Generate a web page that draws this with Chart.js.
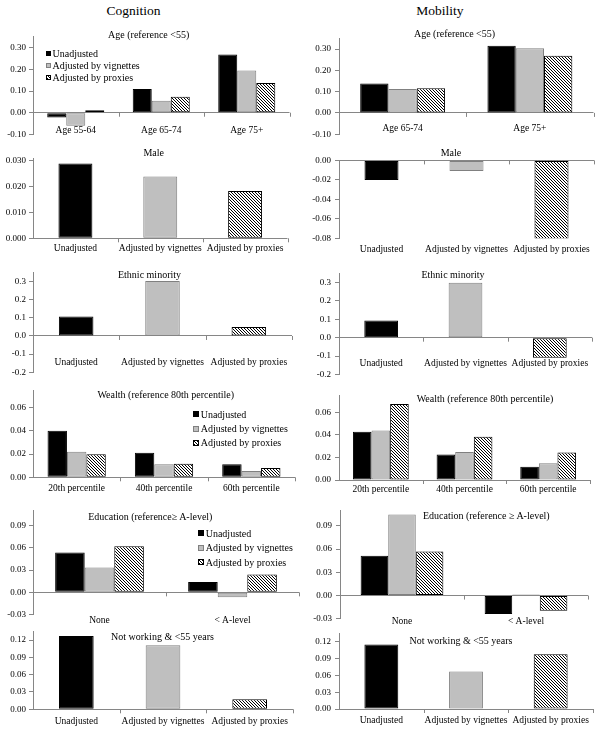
<!DOCTYPE html>
<html>
<head>
<meta charset="utf-8">
<script src="https://cdn.jsdelivr.net/npm/chart.js@4.4.1/dist/chart.umd.min.js"></script>
<style>
  body { margin: 0; background: #fff; }
  #page { position: relative; width: 601px; height: 730px; overflow: hidden; background: #fff;
    font-family: "Liberation Serif", "Times New Roman", serif; color: #000; }
  #page canvas { position: absolute; }
  .head { position: absolute; font-size: 13.5px; transform: translate(-50%, -50%); white-space: nowrap; }
  .ptitle { position: absolute; font-size: 10px; transform: translate(-50%, -50%); white-space: nowrap; }
  .legend { position: absolute; font-size: 10px; white-space: nowrap; }
  .legend .row { display: flex; align-items: center; }
  .legend .key { box-sizing: border-box; margin-right: 2px; }
</style>
</head>
<body>
<div id="page"></div>
<script>
// --- Data ---
const seriesNames = ['Unadjusted', 'Adjusted by vignettes', 'Adjusted by proxies'];

// Cognition
const cogAgeLabels = ['Age 55-64', 'Age 65-74', 'Age 75+'];
const cogAgeUnadj = [-0.022, 0.109, 0.269];
const cogAgeVig = [-0.060, 0.055, 0.195];
const cogAgeProx = [0.012, 0.074, 0.137];

const cogMale = [0.0290, 0.0240, 0.0184];
const cogEthnic = [0.108, 0.303, 0.050];

const wealthLabels = ['20th percentile', '40th percentile', '60th percentile'];
const cogWealthUnadj = [0.0402, 0.0212, 0.0112];
const cogWealthVig = [0.0220, 0.0112, 0.0054];
const cogWealthProx = [0.0198, 0.0117, 0.0080];

const eduLabels = ['None', '< A-level'];
const cogEduUnadj = [0.0535, 0.0138];
const cogEduVig = [0.0335, -0.0067];
const cogEduProx = [0.0620, 0.0241];

const cogNotWorking = [0.127, 0.111, 0.0173];

// Mobility
const mobAgeLabels = ['Age 65-74', 'Age 75+'];
const mobAgeUnadj = [0.138, 0.315];
const mobAgeVig = [0.112, 0.304];
const mobAgeProx = [0.116, 0.268];

const mobMale = [-0.020, -0.011, -0.081];
const mobEthnic = [0.093, 0.299, -0.110];

const mobWealthUnadj = [0.0427, 0.0225, 0.0117];
const mobWealthVig = [0.0439, 0.0248, 0.0149];
const mobWealthProx = [0.0673, 0.0383, 0.0243];

const mobEduUnadj = [0.0514, -0.0239];
const mobEduVig = [0.1046, 0.0015];
const mobEduProx = [0.0570, -0.0196];

const mobNotWorking = [0.115, 0.067, 0.0977];

// Tick labels
const ageTicks = [-0.1, 0, 0.1, 0.2, 0.3];
const cogMaleTicks = [0, 0.01, 0.02, 0.03];
const mobMaleTicks = [-0.08, -0.06, -0.04, -0.02, 0];
const ethnicTicks = [-0.2, -0.1, 0, 0.1, 0.2, 0.3];
const wealthTicks = [0, 0.02, 0.04, 0.06];
const eduTicks = [-0.03, 0, 0.03, 0.06, 0.09];
const notWorkingTicks = [0, 0.03, 0.06, 0.09, 0.12];

// --- Styles ---
const axisGray = '#868686';
const grayFill = '#bfbfbf';
const grayEdge = '#808080';
const FONT = '"Liberation Serif", "Times New Roman", serif';
const LABEL_SIZE = 9.5;

Chart.defaults.font.family = FONT;
Chart.defaults.color = '#000';

const page = document.getElementById('page');

// hatched fill (\\\\)
const patCanvas = document.createElement('canvas');
patCanvas.width = 3; patCanvas.height = 3;
const pctx = patCanvas.getContext('2d');
pctx.fillStyle = '#fff';
pctx.fillRect(0, 0, 3, 3);
pctx.fillStyle = '#000';
for (let i = 0; i < 3; i++) pctx.fillRect(i, i, 1, 1);
const hatch = pctx.createPattern(patCanvas, 'repeat');

function groupedSets(u, v, pr) {
  return [
    { label: seriesNames[0], data: u, backgroundColor: '#000', borderColor: '#000' },
    { label: seriesNames[1], data: v, backgroundColor: grayFill, borderColor: grayEdge },
    { label: seriesNames[2], data: pr, backgroundColor: hatch, borderColor: '#000' }
  ];
}

function singleSet(vals) {
  return [{
    label: 'Estimate', data: vals,
    backgroundColor: ['#000', grayFill, hatch],
    borderColor: ['#000', grayEdge, '#000'],
    categoryPercentage: 1, barPercentage: 0.4
  }];
}

// small outside tick marks on the zero line between categories
const catTicks = {
  id: 'catTicks',
  afterDraw(chart) {
    const xs = chart.scales.x, ys = chart.scales.y;
    const ctx = chart.ctx;
    const y0 = ys.getPixelForValue(0);
    const n = chart.data.labels.length;
    ctx.save();
    ctx.strokeStyle = axisGray;
    ctx.lineWidth = 1;
    ctx.beginPath();
    for (let i = 1; i <= n; i++) {
      const px = Math.round(xs.getPixelForValue(i - 0.5)) + 0.5;
      ctx.moveTo(px, y0);
      ctx.lineTo(px, y0 + 4);
    }
    ctx.stroke();
    ctx.restore();
  }
};

function buildPanel(p) {
  const cv = document.createElement('canvas');
  const cTop = Math.floor(p.yTop) - 8;
  const padTop = p.yTop - cTop;
  const plotBottom = p.yBottom - cTop;
  const h = Math.ceil(plotBottom + 22);
  const xh = h - plotBottom;
  const w = Math.ceil(p.plotRight - p.x0 + 4);
  cv.width = w; cv.height = h;
  cv.style.left = p.x0 + 'px';
  cv.style.top = cTop + 'px';
  cv.style.width = w + 'px';
  cv.style.height = h + 'px';
  page.appendChild(cv);

  // mirrored labels are not clipped to the axis box; centre = bottom - pad - lineHeight/2
  const labelPad = p.yBottom - p.labelY - LABEL_SIZE * 0.6;

  new Chart(cv.getContext('2d'), {
    type: 'bar',
    data: { labels: p.labels, datasets: p.datasets },
    options: {
      responsive: false,
      animation: false,
      devicePixelRatio: 1,
      layout: { padding: { left: 0, right: w - (p.plotRight - p.x0), top: padTop, bottom: 0 } },
      plugins: { legend: { display: false }, tooltip: { enabled: false } },
      datasets: { bar: { borderWidth: 1, borderSkipped: false, categoryPercentage: 0.667, barPercentage: 1 } },
      scales: {
        x: {
          grid: { display: false, drawTicks: false },
          border: { display: false },
          ticks: { autoSkip: false, maxRotation: 0, minRotation: 0, mirror: true, padding: labelPad,
            font: { size: LABEL_SIZE } },
          afterFit: (s) => { s.height = xh; }
        },
        y: {
          min: p.min, max: p.max,
          grid: {
            color: (c) => (c.tick && c.tick.value === 0 ? axisGray : 'rgba(0,0,0,0)'),
            tickColor: axisGray, tickLength: 4, drawTicks: true, lineWidth: 1
          },
          border: { display: true, color: axisGray },
          ticks: { padding: p.tickPad, font: { size: 9 }, callback: (v) => Number(v).toFixed(p.dec) },
          afterBuildTicks: (s) => { s.ticks = p.ticks.map(v => ({ value: v })); },
          afterFit: (s) => { s.width = p.axisX - p.x0; }
        }
      }
    },
    plugins: [catTicks]
  });
}

function addText(cls, text, x, y) {
  const d = document.createElement('div');
  d.className = cls;
  d.textContent = text;
  d.style.left = x + 'px';
  d.style.top = y + 'px';
  page.appendChild(d);
}

function addLegend(x, y, rowH, key) {
  const lg = document.createElement('div');
  lg.className = 'legend';
  lg.style.left = x + 'px';
  lg.style.top = y + 'px';
  const fills = [
    'background:#000;',
    'background:' + grayFill + ';border:1px solid ' + grayEdge + ';',
    'background:repeating-linear-gradient(45deg,#000 0 1px,#fff 1px 2.2px);border:1px solid #000;'
  ];
  seriesNames.forEach((name, i) => {
    const row = document.createElement('div');
    row.className = 'row';
    row.style.height = rowH + 'px';
    row.innerHTML = '<span class="key" style="width:' + key + 'px;height:' + key + 'px;' + fills[i] + '"></span><span>' + name + '</span>';
    lg.appendChild(row);
  });
  page.appendChild(lg);
}

// --- Panels ---
// Cognition column
buildPanel({ x0: 0, axisX: 33, plotRight: 289.5, yTop: 36.9, yBottom: 134.4, min: -0.1, max: 0.35,
  ticks: ageTicks, dec: 2, tickPad: 3, labelY: 130.7, labels: cogAgeLabels,
  datasets: groupedSets(cogAgeUnadj, cogAgeVig, cogAgeProx) });
buildPanel({ x0: 0, axisX: 33, plotRight: 287.5, yTop: 158.4, yBottom: 238.3, min: 0, max: 0.031,
  ticks: cogMaleTicks, dec: 3, tickPad: 3, labelY: 248.3, labels: seriesNames,
  datasets: singleSet(cogMale) });
buildPanel({ x0: 0, axisX: 33, plotRight: 292, yTop: 272.6, yBottom: 372.2, min: -0.2, max: 0.35,
  ticks: ethnicTicks, dec: 1, tickPad: 3, labelY: 362.7, labels: seriesNames,
  datasets: singleSet(cogEthnic) });
buildPanel({ x0: 0, axisX: 33, plotRight: 295, yTop: 390.3, yBottom: 477.3, min: 0, max: 0.075,
  ticks: wealthTicks, dec: 2, tickPad: 3, labelY: 488.3, labels: wealthLabels,
  datasets: groupedSets(cogWealthUnadj, cogWealthVig, cogWealthProx) });
buildPanel({ x0: 0, axisX: 33, plotRight: 299, yTop: 510, yBottom: 614.7, min: -0.03, max: 0.11,
  ticks: eduTicks, dec: 2, tickPad: 3, labelY: 620, labels: eduLabels,
  datasets: groupedSets(cogEduUnadj, cogEduVig, cogEduProx) });
buildPanel({ x0: 0, axisX: 33, plotRight: 293, yTop: 631.3, yBottom: 709.3, min: 0, max: 0.135,
  ticks: notWorkingTicks, dec: 2, tickPad: 3, labelY: 721, labels: seriesNames,
  datasets: singleSet(cogNotWorking) });

// Mobility column
buildPanel({ x0: 300, axisX: 339, plotRight: 593.5, yTop: 37.6, yBottom: 134.2, min: -0.1, max: 0.35,
  ticks: ageTicks, dec: 2, tickPad: 4, labelY: 128.5, labels: mobAgeLabels,
  datasets: groupedSets(mobAgeUnadj, mobAgeVig, mobAgeProx) });
buildPanel({ x0: 300, axisX: 339, plotRight: 594, yTop: 159.7, yBottom: 238.3, min: -0.08, max: 0,
  ticks: mobMaleTicks, dec: 2, tickPad: 4, labelY: 249, labels: seriesNames,
  datasets: singleSet(mobMale) });
buildPanel({ x0: 300, axisX: 339, plotRight: 592, yTop: 272.4, yBottom: 374.4, min: -0.2, max: 0.35,
  ticks: ethnicTicks, dec: 1, tickPad: 4, labelY: 363.3, labels: seriesNames,
  datasets: singleSet(mobEthnic) });
buildPanel({ x0: 300, axisX: 339, plotRight: 590, yTop: 394.6, yBottom: 480, min: 0, max: 0.075,
  ticks: wealthTicks, dec: 2, tickPad: 4, labelY: 489, labels: wealthLabels,
  datasets: groupedSets(mobWealthUnadj, mobWealthVig, mobWealthProx) });
buildPanel({ x0: 300, axisX: 340, plotRight: 588, yTop: 509, yBottom: 618.8, min: -0.03, max: 0.11,
  ticks: eduTicks, dec: 2, tickPad: 4, labelY: 621.7, labels: eduLabels,
  datasets: groupedSets(mobEduUnadj, mobEduVig, mobEduProx) });
buildPanel({ x0: 300, axisX: 339, plotRight: 593, yTop: 632.1, yBottom: 709, min: 0, max: 0.135,
  ticks: notWorkingTicks, dec: 2, tickPad: 4, labelY: 720, labels: seriesNames,
  datasets: singleSet(mobNotWorking) });

// --- Titles ---
addText('head', 'Cognition', 133.5, 11);
addText('head', 'Mobility', 440, 11);

addText('ptitle', 'Age (reference <55)', 148.7, 34);
addText('ptitle', 'Male', 153.7, 151.7);
addText('ptitle', 'Ethnic minority', 149.5, 274.3);
addText('ptitle', 'Wealth (reference 80th percentile)', 165.8, 394.3);
addText('ptitle', 'Education (reference\u2265 A-level)', 150.3, 515.5);
addText('ptitle', 'Not working & <55 years', 162.5, 636);

addText('ptitle', 'Age (reference <55)', 454.5, 32.5);
addText('ptitle', 'Male', 451, 151.7);
addText('ptitle', 'Ethnic minority', 453, 274.3);
addText('ptitle', 'Wealth (reference 80th percentile)', 485, 397.7);
addText('ptitle', 'Education (reference \u2265 A-level)', 486.3, 515);
addText('ptitle', 'Not working & <55 years', 461, 640);

// --- Legends ---
addLegend(45.5, 47.3, 12, 5);
addLegend(192.7, 407.3, 14.2, 6);
addLegend(197.7, 526, 14.5, 6);
</script>
</body>
</html>
